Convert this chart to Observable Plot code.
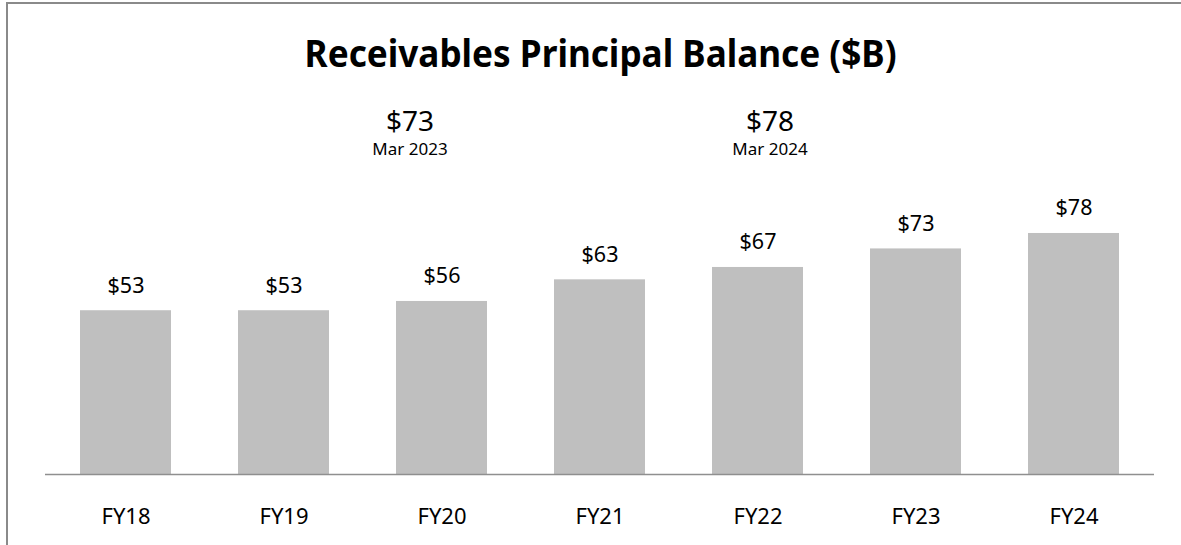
<!DOCTYPE html>
<html>
<head>
<meta charset="utf-8">
<script src="https://cdn.jsdelivr.net/npm/d3@7"></script>
<script src="https://cdn.jsdelivr.net/npm/@observablehq/plot@0.6"></script>
<style>
  html, body { margin: 0; padding: 0; background: #fff; }
  #wrap { position: relative; width: 1181px; height: 545px; overflow: hidden; font-family: "Noto Sans", sans-serif; color: #000; }
  #frame { position: absolute; left: 6px; top: 2px; width: 1200px; height: 600px; border-top: 2px solid #8a8a8a; border-left: 2px solid #8a8a8a; }
  #title { position: absolute; top: 31px; left: 0; width: 1181px; text-align: center; font-weight: 700; font-size: 37px; line-height: 44px; white-space: nowrap; }
  #title span { display: inline-block; transform-origin: center; }
  .annot { position: absolute; width: 200px; text-align: center; }
  .annot .v { font-size: 28px; line-height: 32px; }
  .annot .d { font-size: 17px; line-height: 20px; margin-top: 3px; }
  #chart { position: absolute; left: 0; top: 0; }
</style>
</head>
<body>
<div id="wrap">
  <div id="frame"></div>
  <div id="chart"></div>
  <div id="title"><span>Receivables Principal Balance ($B)</span></div>
</div>
<script>
const years = ["FY18", "FY19", "FY20", "FY21", "FY22", "FY23", "FY24"];
const balances = [53, 53, 56, 63, 67, 73, 78];
const valueLabels = ["$53", "$53", "$56", "$63", "$67", "$73", "$78"];
const annotValues = ["$73", "$78"];
const annotDates = ["Mar 2023", "Mar 2024"];

const data = years.map((y, i) => ({year: y, value: balances[i], label: valueLabels[i]}));

const plot = Plot.plot({
  width: 1181,
  height: 545,
  marginLeft: 45,
  marginRight: 27,
  marginTop: 165,
  marginBottom: 71,
  style: {fontFamily: "'Noto Sans', sans-serif", color: "#000", background: "transparent", overflow: "visible"},
  x: {domain: years, paddingInner: 0.425, paddingOuter: 0.2125, label: null},
  y: {domain: [0, 100], axis: null},
  marks: [
    Plot.barY(data, {x: "year", y: "value", fill: "#bfbfbf"}),
    Plot.ruleY([0], {stroke: "#8f8f8f", strokeWidth: 1.5}),
    Plot.text(data, {x: "year", y: "value", text: "label", lineAnchor: "bottom", dy: -18, fontSize: 21.5, fill: "#000"}),
    Plot.axisX({tickSize: 0, tickPadding: 34, fontSize: 22, label: null, fill: "#000"})
  ]
});
document.getElementById("chart").appendChild(plot);

// annotations above the chart
const annotCenters = [410, 770];
annotValues.forEach((v, i) => {
  const d = document.createElement("div");
  d.className = "annot";
  d.style.left = (annotCenters[i] - 100) + "px";
  d.style.top = "104px";
  d.innerHTML = `<div class="v"></div><div class="d"></div>`;
  d.querySelector(".v").textContent = v;
  d.querySelector(".d").textContent = annotDates[i];
  document.getElementById("wrap").appendChild(d);
});

// fit title width
const span = document.querySelector("#title span");
const w = span.getBoundingClientRect().width;
const target = 592;
span.style.transform = `translate(10px,0) scaleX(${target / w})`;
</script>
</body>
</html>
